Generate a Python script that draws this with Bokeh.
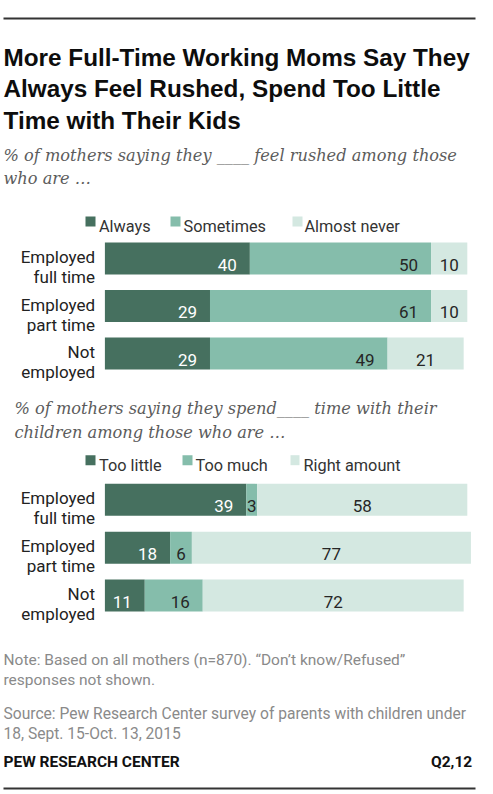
from bokeh.plotting import figure
from bokeh.models import Range1d, Label, BoxAnnotation
from bokeh.embed import file_html
from bokeh.resources import INLINE
from bokeh.core.properties import value

# ---------------- data ----------------
title_lines = ["More Full-Time Working Moms Say They",
               "Always Feel Rushed, Spend Too Little",
               "Time with Their Kids"]
subtitle_rushed = ["% of mothers saying they ____ feel rushed among those",
                   "who are \u2026"]
subtitle_time = ["% of mothers saying they spend____ time with their",
                 "children among those who are \u2026"]
categories = [["Employed", "full time"], ["Employed", "part time"], ["Not", "employed"]]

rushed_series = ["Always", "Sometimes", "Almost never"]
rushed_always = [40, 29, 29]
rushed_sometimes = [50, 61, 49]
rushed_almost_never = [10, 10, 21]

time_series = ["Too little", "Too much", "Right amount"]
time_too_little = [39, 18, 11]
time_too_much = [3, 6, 16]
time_right_amount = [58, 77, 72]

note_lines = ["Note: Based on all mothers (n=870). \u201cDon\u2019t know/Refused\u201d",
              "responses not shown."]
source_lines = ["Source: Pew Research Center survey of parents with children under",
                "18, Sept. 15-Oct. 13, 2015"]
brand = "PEW RESEARCH CENTER"
question_ref = "Q2,12"

# ---------------- style ----------------
W, H = 493, 794
colors = ["#46705F", "#85BDAB", "#D4E8E1"]
value_colors = ["white", "#262626", "#262626"]
body_font = "Roboto"
px_per_pct = 3.624
zero_px = 104.4
x_start = -zero_px / px_per_pct
x_end = x_start + W / px_per_pct

p = figure(width=W, height=H, output_backend="svg", toolbar_location=None,
           x_range=Range1d(x_start, x_end), y_range=Range1d(H, 0),
           x_axis_location=None, y_axis_location=None, min_border=0,
           tools="")
p.grid.visible = False
p.outline_line_color = None
p.background_fill_color = "white"
p.border_fill_color = "white"


def label(text, x, y, size, color="#222222", font=body_font, style="normal",
          align="left", baseline="alphabetic"):
    p.add_layout(Label(x=x, y=y, x_units="screen", y_units="data", text=text,
                       text_font=font, text_font_size=f"{size}px",
                       text_font_style=style, text_color=color,
                       text_align=align, text_baseline=baseline))


def box(x0, x1, y0, y1, color):
    p.add_layout(BoxAnnotation(left=x0, right=x1, left_units="screen", right_units="screen",
                               top=y0, bottom=y1, top_units="data", bottom_units="data",
                               fill_color=color, fill_alpha=1, line_color=None))


# rules
box(3, 475, 17, 19, "#333333")
box(3, 475, 787, 789, "#333333")

# title
for i, t in enumerate(title_lines):
    label(t, 3, 56.7 + 31.5 * i, 24.3, "#0d0d0d", "Liberation Sans", "bold")

# subtitles
for i, t in enumerate(subtitle_rushed):
    label(t, 3, 155 + 22.8 * i, 16.2, "#5c5c5c", "DejaVu Serif", "italic")
for i, t in enumerate(subtitle_time):
    label(t, 14, 408.3 + 23.4 * i, 16.2, "#5c5c5c", "DejaVu Serif", "italic")


def legend(names, base, squares, text_x):
    for k, name in enumerate(names):
        x0, x1 = squares[k]
        box(x0, x1, base - 10, base, colors[k])
        label(name, text_x[k], base, 16.3, "#333333")


legend(rushed_series, 226, [(85, 95), (170, 180), (292, 302)], [98.5, 183, 304])
legend(time_series, 464.7, [(85, 95), (182, 192), (290, 299)], [98.5, 195, 303])


def chart(series_values, y0, step, bar_h=32):
    n = len(categories)
    ys = [y0 + i * step for i in range(n)]
    for i, lines in enumerate(categories):
        for j, ln in enumerate(lines):
            label(ln, 94.5, ys[i] - 1.5 + 20 * j, 17, "#222222", align="right")
    left = [0] * n
    for k, vals in enumerate(series_values):
        right = [a + v for a, v in zip(left, vals)]
        p.hbar(y=ys, left=left, right=right, height=bar_h, fill_color=colors[k],
               line_color=None)
        ra_x, ra_y, ra_t, c_x, c_y, c_t = [], [], [], [], [], []
        for i, v in enumerate(vals):
            if k < 2 and v >= 8:
                ra_x.append(right[i]); ra_y.append(ys[i] + 6); ra_t.append(str(v))
            else:
                c_x.append((left[i] + right[i]) / 2); c_y.append(ys[i] + 6); c_t.append(str(v))
        if ra_t:
            p.text(x=ra_x, y=ra_y, text=ra_t, x_offset=-13, text_align="right",
                   text_baseline="alphabetic", text_font=value(body_font),
                   text_font_size="17px", text_color=value_colors[k])
        if c_t:
            p.text(x=c_x, y=c_y, text=c_t, text_align="center",
                   text_baseline="alphabetic", text_font=value(body_font),
                   text_font_size="17px", text_color=value_colors[k])
        left = right


chart([rushed_always, rushed_sometimes, rushed_almost_never], 258, 47.5)
chart([time_too_little, time_too_much, time_right_amount], 499.3, 47.85)

# notes
for i, t in enumerate(note_lines):
    label(t, 3, 659.3 + 20 * i, 15.5, "#8a8a8a")
for i, t in enumerate(source_lines):
    label(t, 3, 713.3 + 20 * i, 15.6, "#8a8a8a")
label(brand, 3, 761.7, 15.5, "#111111", body_font, "bold")
label(question_ref, 471.7, 761.7, 15.5, "#111111", body_font, "bold", align="right")

open("out.html", "w").write(file_html(p, INLINE))
